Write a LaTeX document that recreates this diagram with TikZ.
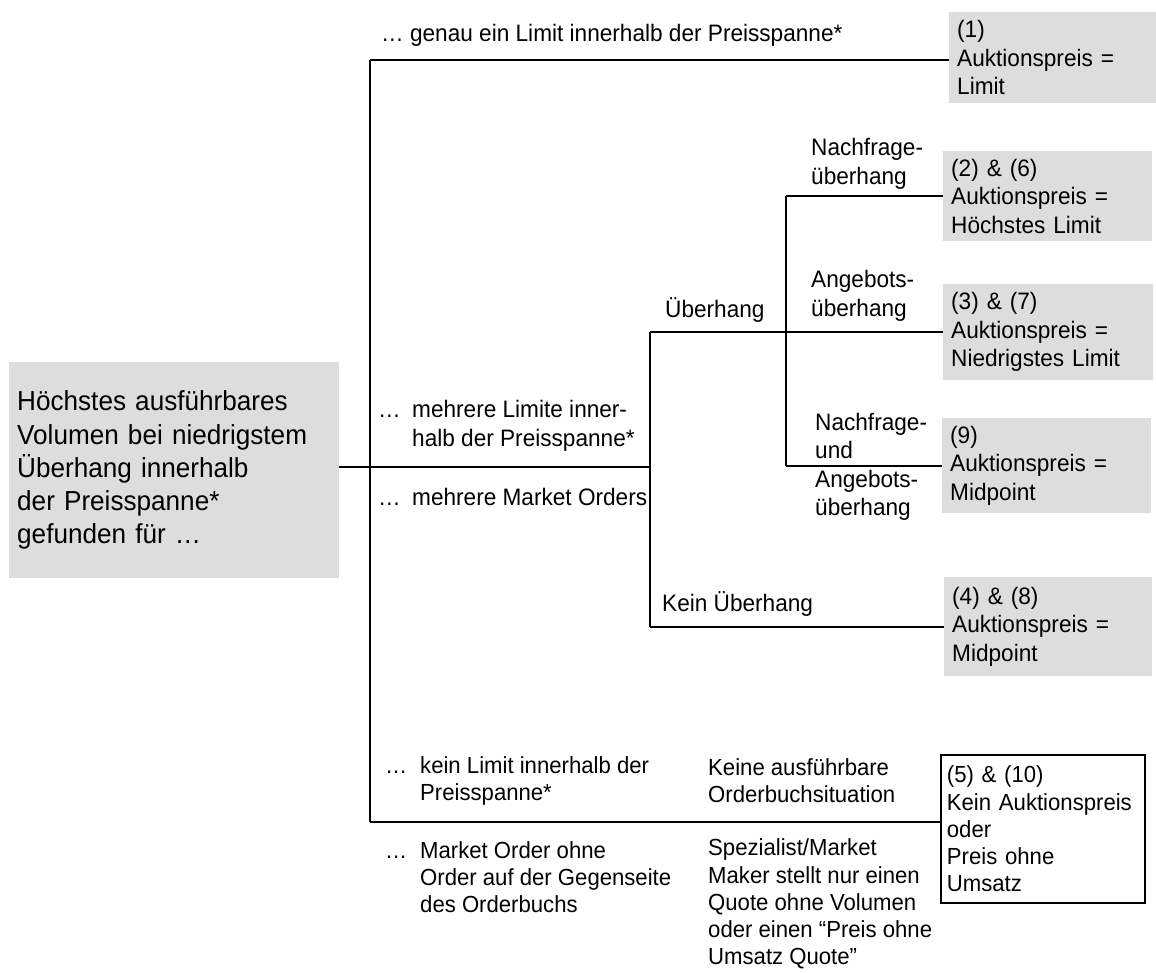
\documentclass[tikz,border=0pt]{standalone}
\usepackage{fontspec}
\setmainfont{Liberation Sans}[FakeStretch=0.95]
\definecolor{boxgray}{RGB}{221,221,221}
\hyphenpenalty=10000
\exhyphenpenalty=10000
\begin{document}
\begin{tikzpicture}[x=1pt,y=-1pt,
  txt/.style={inner sep=0pt, anchor=west, align=left, font=\fontsize{23.8}{28.5}\selectfont},
  smalltxt/.style={txt, font=\fontsize{23.3}{27.2}\selectfont},
  gbox/.style={fill=boxgray, anchor=north west, inner xsep=8pt, inner ysep=0pt, align=left, font=\fontsize{23.8}{28.5}\selectfont},
  conn/.style={line width=1.8pt}]
\useasboundingbox (0,0) rectangle (1156,973);

% main box
\node[gbox, minimum width=330pt, minimum height=216pt, text width=314pt,
      font=\fontsize{27.5}{33.3}\selectfont] (main) at (9,362)
  {Höchstes ausführbares\\Volumen bei niedrigstem\\Überhang innerhalb\\der Preisspanne*\\gefunden für …};

% result boxes
\node[gbox, minimum width=207pt, minimum height=91pt, text width=191pt] (b1) at (949,12)
  {(1)\\Auktionspreis =\\Limit};
\node[gbox, minimum width=209pt, minimum height=90pt, text width=193pt] (b26) at (943,151)
  {(2) \& (6)\\Auktionspreis =\\Höchstes Limit};
\node[gbox, minimum width=210pt, minimum height=96pt, text width=194pt] (b37) at (943,284)
  {(3) \& (7)\\Auktionspreis =\\Niedrigstes Limit};
\node[gbox, minimum width=209pt, minimum height=95pt, text width=193pt] (b9) at (942,418)
  {(9)\\Auktionspreis =\\Midpoint};
\node[gbox, minimum width=208pt, minimum height=99pt, text width=192pt] (b48) at (944,577)
  {(4) \& (8)\\Auktionspreis =\\Midpoint};
\node[gbox, fill=white, draw=black, line width=1.8pt, inner xsep=6pt,
      minimum width=204pt, minimum height=148pt, text width=192pt,
      font=\fontsize{23.3}{27.2}\selectfont] (b5) at (940,754)
  {(5) \& (10)\\Kein Auktionspreis\\oder\\Preis ohne\\Umsatz};

% junction coordinates
\coordinate (vtop) at (370,60);
\coordinate (vbot) at (370,822);
\coordinate (j1) at (650,467);
\coordinate (u1) at (650,332);
\coordinate (u2) at (650,627);
\coordinate (k1) at (786,196);
\coordinate (k2) at (786,466);

% connectors
\draw[conn] (vtop) -- (vbot);
\draw[conn] (vtop) -- (vtop -| b1.west);
\draw[conn] (vbot) -- (vbot -| b5.west);
\draw[conn] (main.east |- j1) -- (j1);
\draw[conn] (u1) -- (u2);
\draw[conn] (u1) -- (u1 -| b37.west);
\draw[conn] (u2) -- (u2 -| b48.west);
\draw[conn] (k1) -- (k2);
\draw[conn] (k1) -- (k1 -| b26.west);
\draw[conn] (k2) -- (k2 -| b9.west);

% labels
\node[txt] (l1) at (381,35) {… genau ein Limit innerhalb der Preisspanne*};
\node[txt] (l2) at (378,426) {\makebox[34pt][l]{…}mehrere Limite inner-\\\makebox[34pt]{}halb der Preisspanne*};
\node[txt] (l3) at (378,497) {\makebox[34pt][l]{…}mehrere Market Orders};
\node[txt] (lu) at (665,310) {Überhang};
\node[txt] (ln) at (811,164) {Nachfrage-\\überhang};
\node[txt] (la) at (811,296) {Angebots-\\überhang};
\node[txt] (lna) at (815,467) {Nachfrage-\\und\\Angebots-\\überhang};
\node[txt] (lk) at (662,604) {Kein Überhang};
\node[smalltxt] (l4) at (385,781) {\makebox[35pt][l]{…}kein Limit innerhalb der\\\makebox[35pt]{}Preisspanne*};
\node[smalltxt] (l4b) at (708,781) {Keine ausführbare\\Orderbuchsituation};
\node[smalltxt] (l5) at (385,877) {\makebox[35pt][l]{…}Market Order ohne\\\makebox[35pt]{}Order auf der Gegenseite\\\makebox[35pt]{}des Orderbuchs};
\node[smalltxt] (l5b) at (708,904) {Spezialist/Market\\Maker stellt nur einen\\Quote ohne Volumen\\oder einen “Preis ohne\\Umsatz Quote”};
\end{tikzpicture}
\end{document}
